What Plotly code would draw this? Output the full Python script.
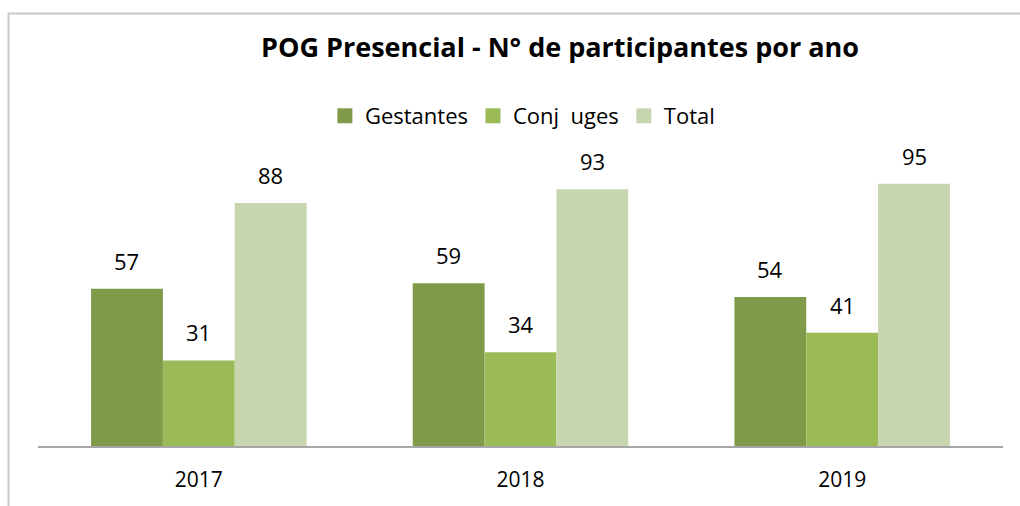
import plotly.graph_objects as go

categories = ["2017", "2018", "2019"]
series_names = ["Gestantes", "Conj\u00a0 uges", "Total"]
gestantes = [57, 59, 54]
conjuges = [31, 34, 41]
total = [88, 93, 95]
colors = ["#7F9B4A", "#9BBB59", "#C7D6AE"]

series_values = [gestantes, conjuges, total]
FONT = "Open Sans"

fig = go.Figure()
for name, vals, col in zip(series_names, series_values, colors):
    fig.add_trace(go.Bar(x=categories, y=vals, name=name, showlegend=False,
                         marker=dict(color=col, line=dict(width=0))))
for name, col in zip(series_names, colors):
    fig.add_trace(go.Scatter(x=[None], y=[None], mode="markers", name=name,
                             marker=dict(symbol="square", size=15, color=col)))

bar_px = 72
for i, vals in enumerate(series_values):
    for j, v in enumerate(vals):
        fig.add_annotation(x=j, y=v, text=str(v), showarrow=False, xref="x", yref="y",
                           xshift=(i - 1) * bar_px, yanchor="bottom", yshift=11,
                           font=dict(family=FONT, size=22, color="#000000"))

fig.add_shape(type="rect", xref="paper", yref="paper",
              x0=(8.5 - 38) / 965, x1=(1030 - 38) / 965,
              y0=(446 - 520) / 276, y1=(446 - 13.5) / 276,
              line=dict(color="#C8C8C8", width=2), fillcolor="rgba(0,0,0,0)", layer="below")

fig.update_layout(
    width=1020, height=506,
    margin=dict(l=38, r=17, t=170, b=60, autoexpand=False),
    paper_bgcolor="white", plot_bgcolor="white",
    barmode="group", bargap=0.33, bargroupgap=0,
    title=dict(text="<b>POG Presencial - N° de participantes por ano</b>", x=560 / 1020, xanchor="center",
               y=1 - 48 / 506, yanchor="middle", font=dict(family=FONT, size=27, color="#000000")),
    legend=dict(orientation="h", x=512 / 1020, xanchor="center", y=(446 - 116) / 276, yanchor="middle",
                font=dict(family=FONT, size=22, color="#000000"), itemwidth=30,
                bgcolor="rgba(0,0,0,0)"),
    xaxis=dict(type="category", range=[-0.5, 2.5], showline=True, linecolor="#A6A6A6", linewidth=2,
               ticks="", showgrid=False,
               tickfont=dict(family=FONT, size=21, color="#000000"), ticklabelstandoff=14),
    yaxis=dict(range=[0, 100], visible=False, showgrid=False),
    showlegend=True,
)

fig.write_html("out.html", config={"displayModeBar": False},
               post_script="document.body.style.margin='0';document.body.style.overflow='hidden';")
